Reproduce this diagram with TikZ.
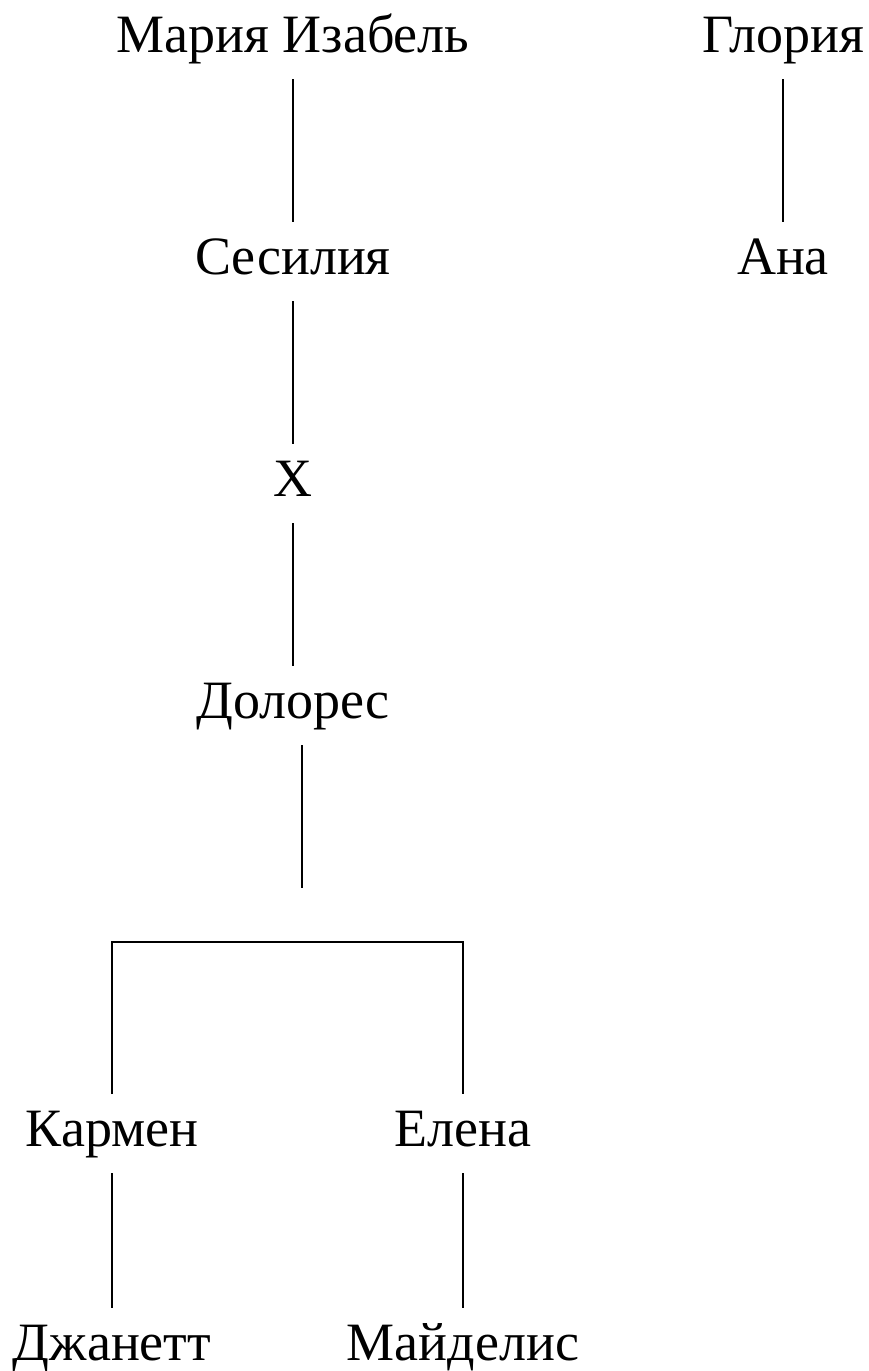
\documentclass[tikz,border=0pt]{standalone}
\usepackage{fontspec}
\setmainfont{Liberation Serif}
\usepackage{tikz}
\tikzstyle{person} = [rectangle,
font=\fontsize{54}{60}\selectfont,
inner sep=0pt,
text height=37pt,
text depth=12pt,
outer xsep=0pt,
outer ysep=15pt,
text centered]
\tikzstyle{line} = [line width=1.3pt]

\begin{document}
\begin{tikzpicture}[node distance=222pt, x=1pt, y=-1pt]
			\useasboundingbox (0,0) rectangle (869,1371);
			
			\node (mar) [person] at (293,39.5) {Мария Изабель};
			\node (glo) [person, right of=mar, xshift=268pt] {Глория};
			
			\node (ces) [person, below of=mar] {Сесилия};
			\node (ana) [person, below of=glo] {Ана};
			
			\node (xx) [person, below of=ces] {Х};
			\node (dol) [person, below of=xx] {Долорес};
			
			\node (kar) [person, below of=dol, xshift=-181pt, yshift=-206pt] {Кармен};
			\node (ele) [person, right of=kar, xshift=129pt] {Елена};
			
			\node (dja) [person, below of=kar, yshift=8pt] {Джанетт};
			\node (may) [person, below of=ele, yshift=8pt] {Майделис};
			
			\coordinate (split) at (302,888);
			\coordinate (bar) at (0,942);
			
			\draw [line] (mar.south) -- (ces.north);
			\draw [line] (glo.south) -- (ana.north);
			\draw [line] (ces.south) -- (xx.north);
			\draw [line] (xx.south) -- (dol.north);
			\draw [line] (split |- dol.south) -- (split);
			\draw [line] (kar.north) -- (kar.north |- bar) -- (ele.north |- bar) -- (ele.north);
			\draw [line] (kar.south) -- (dja.north);
			\draw [line] (ele.south) -- (may.north);
			
		\end{tikzpicture}
\end{document}
